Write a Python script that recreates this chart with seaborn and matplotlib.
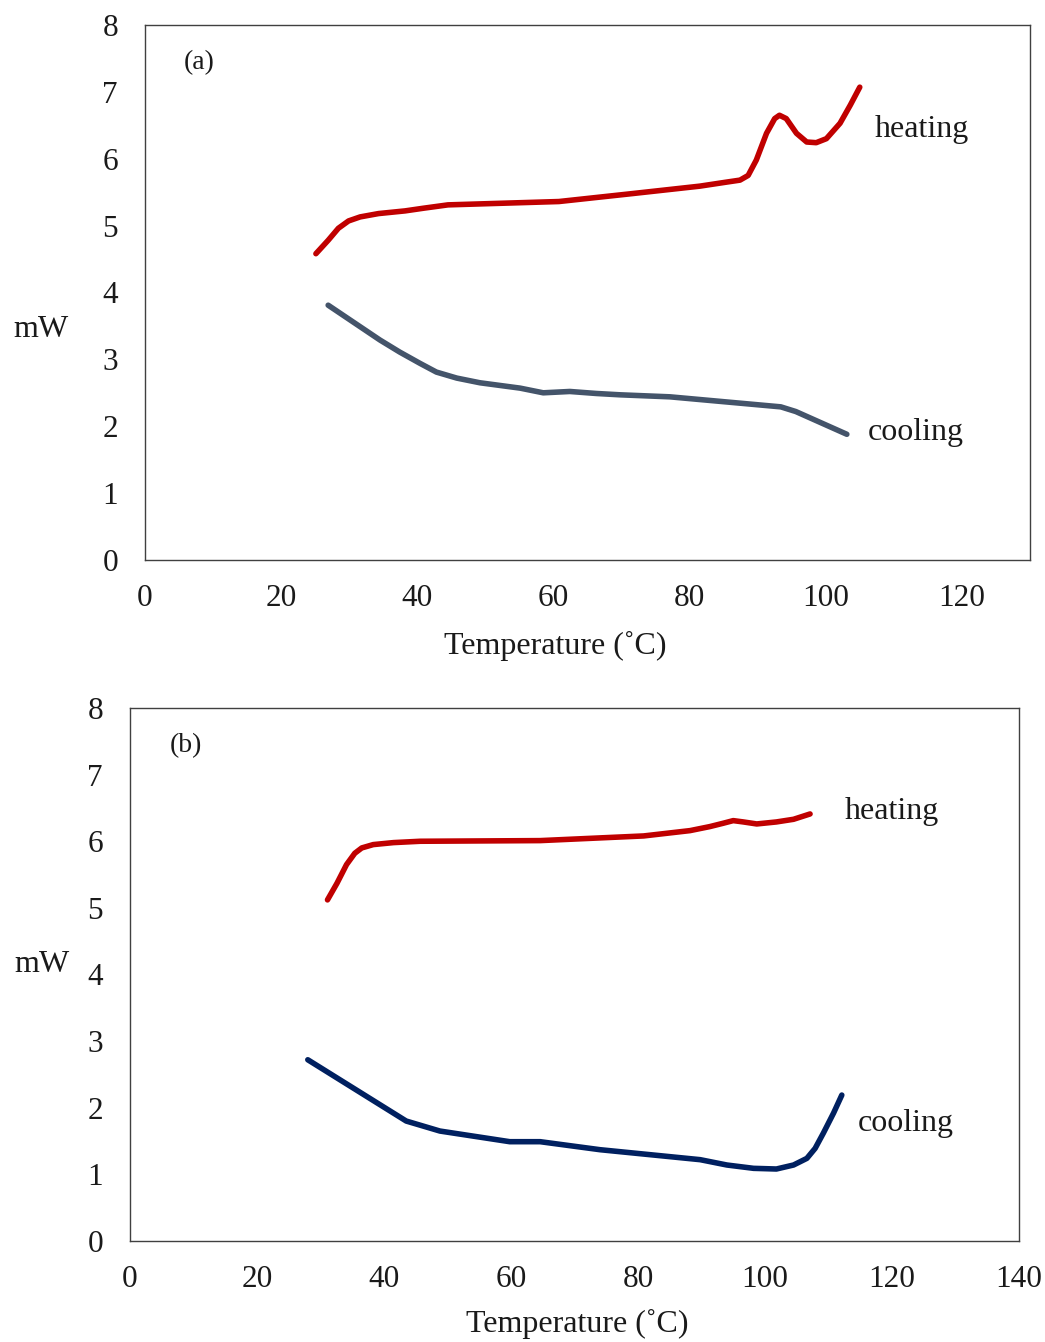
import matplotlib
matplotlib.use("Agg")
import matplotlib.pyplot as plt
import seaborn as sns
import pandas as pd

# DSC traces, panel (a)
a_heat_T = [25.1, 26.9, 28.4, 29.9, 31.6, 34.3, 38.2, 40.9, 44.5, 60.8, 71.7, 81.5, 85.4,
            87.4, 88.6, 89.8, 91.3, 92.5, 93.2, 94.2, 95.7, 97.2, 98.6, 100.1, 102.1, 103.6, 105.0]
a_heat_mW = [4.58, 4.78, 4.96, 5.07, 5.13, 5.18, 5.22, 5.26, 5.31, 5.36, 5.48, 5.59, 5.65,
             5.68, 5.75, 5.98, 6.38, 6.60, 6.65, 6.60, 6.38, 6.25, 6.24, 6.30, 6.53, 6.80, 7.07]
a_cool_T = [26.9, 34.5, 37.4, 40.4, 42.8, 45.8, 49.2, 55.1, 58.5, 62.4, 66.3, 69.8, 77.1,
            93.4, 95.6, 103.1]
a_cool_mW = [3.81, 3.29, 3.11, 2.94, 2.81, 2.72, 2.65, 2.57, 2.50, 2.52, 2.49, 2.47, 2.44,
             2.29, 2.22, 1.88]

# DSC traces, panel (b)
b_heat_T = [31.1, 32.6, 34.1, 35.4, 36.5, 38.3, 41.5, 45.7, 64.6, 80.9, 88.2, 91.3, 93.4,
            95.0, 96.6, 98.7, 101.8, 104.5, 107.1]
b_heat_mW = [5.12, 5.37, 5.65, 5.82, 5.90, 5.95, 5.98, 6.00, 6.01, 6.08, 6.16, 6.22, 6.27,
             6.31, 6.29, 6.26, 6.29, 6.33, 6.41]
b_cool_T = [28.0, 43.5, 48.8, 59.8, 64.6, 74.0, 89.8, 94.0, 98.2, 101.8, 104.5, 106.6,
            107.9, 109.2, 110.8, 112.1]
b_cool_mW = [2.72, 1.80, 1.65, 1.49, 1.49, 1.37, 1.22, 1.14, 1.09, 1.08, 1.14, 1.24,
             1.39, 1.62, 1.92, 2.19]

a_xticks = [0, 20, 40, 60, 80, 100, 120]
b_xticks = [0, 20, 40, 60, 80, 100, 120, 140]
yticks = [0, 1, 2, 3, 4, 5, 6, 7, 8]

sns.set_theme(style="white")
plt.rcParams["font.family"] = ["Liberation Serif", "DejaVu Serif"]

RED = "#C00000"
SLATE = "#44546A"
NAVY = "#002060"
INK = "#1a1a1a"

fig = plt.figure(figsize=(10.45, 13.42), dpi=100)
ax_a = fig.add_axes([0.1388, 0.5827, 0.9856 - 0.1388, 0.9814 - 0.5827])
ax_b = fig.add_axes([0.1244, 0.0753, 0.9751 - 0.1244, 0.4724 - 0.0753])


def trace(ax, T, mW, color):
    df = pd.DataFrame({"T": T, "mW": mW})
    sns.lineplot(data=df, x="T", y="mW", ax=ax, color=color, linewidth=4.0,
                 sort=False, estimator=None, solid_capstyle="round",
                 solid_joinstyle="round")


trace(ax_a, a_heat_T, a_heat_mW, RED)
trace(ax_a, a_cool_T, a_cool_mW, SLATE)
trace(ax_b, b_heat_T, b_heat_mW, RED)
trace(ax_b, b_cool_T, b_cool_mW, NAVY)

for ax, xt, xmax in [(ax_a, a_xticks, 130), (ax_b, b_xticks, 140)]:
    ax.set_xlim(0, xmax)
    ax.set_ylim(0, 8)
    ax.set_xticks(xt)
    ax.set_yticks(yticks)
    ax.tick_params(axis="both", length=0, labelsize=22.5, colors=INK)
    ax.tick_params(axis="x", pad=17.5)
    ax.tick_params(axis="y", pad=19.5)
    for s in ax.spines.values():
        s.set_visible(True)
        s.set_color("#404040")
        s.set_linewidth(1.0)
    ax.set_xlabel("Temperature (˚C)", fontsize=23, color=INK, va="center")
    ax.set_ylabel("mW", fontsize=23, rotation=0, color=INK, va="center", ha="center")

ax_a.xaxis.set_label_coords(0.463, -0.16)
ax_a.yaxis.set_label_coords(-0.118, 0.43)
ax_b.xaxis.set_label_coords(0.503, -0.155)
ax_b.yaxis.set_label_coords(-0.099, 0.518)

ax_a.text(5.7, 7.43, "(a)", fontsize=20, va="center", ha="left", color=INK)
ax_a.text(107.2, 6.43, "heating", fontsize=23, va="center", ha="left", color=INK)
ax_a.text(106.2, 1.91, "cooling", fontsize=23, va="center", ha="left", color=INK)

ax_b.text(6.3, 7.43, "(b)", fontsize=20, va="center", ha="left", color=INK)
ax_b.text(112.6, 6.44, "heating", fontsize=23, va="center", ha="left", color=INK)
ax_b.text(114.6, 1.77, "cooling", fontsize=23, va="center", ha="left", color=INK)

fig.savefig("out.png", dpi=100, facecolor="white")
